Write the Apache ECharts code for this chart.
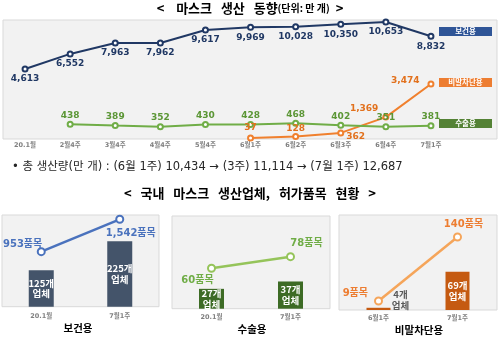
<!DOCTYPE html>
<html><head><meta charset="utf-8">
<script src="https://cdn.jsdelivr.net/npm/echarts@6/dist/echarts.min.js"></script>
<style>html,body{margin:0;padding:0;background:#fff}#c{width:500px;height:338px}</style>
</head><body><div id="c"></div>
<script>
// ---- data ----
const weeks = ['20.1월','2월4주','3월4주','4월4주','5월4주','6월1주','6월2주','6월3주','6월4주','7월1주'];
const healthMasks   = [4613,6552,7963,7962,9617,9969,10028,10350,10653,8832];
const dropletMasks  = [null,null,null,null,null,37,128,362,1369,3474];
const surgicalMasks = [null,438,389,352,430,428,468,402,351,381];
const seriesNames = ['보건용','비말차단용','수술용'];

const healthCats = ['20.1월','7월1주'];
const healthMakers = [125,225];
const healthItems = [953,1542];
const surgicalCats = ['20.1월','7월1주'];
const surgicalMakers = [27,37];
const surgicalItems = [60,78];
const dropletCats = ['6월1주','7월1주'];
const dropletMakers = [4,69];
const dropletItems = [9,140];

const totalNote = '• 총 생산량(만 개) : (6월 1주) 10,434 → (3주) 11,114 → (7월 1주) 12,687';

// ---- chart ----
const KR = "'Noto Sans CJK KR', sans-serif";
const NUM = "'DejaVu Sans', 'Noto Sans CJK KR', sans-serif";
const fmt = v => v.toLocaleString('en-US');
const chart = echarts.init(document.getElementById('c'), null, {renderer:'canvas', width:500, height:338});

const C = {blue:'#203864', orange:'#f0802e', orangeTxt:'#e2711d', green:'#70ad47', greenTxt:'#5b9635',
  p1bar:'#44546a', p1line:'#4a72bd', p2bar:'#3d6b25', p2line:'#95c45a', p2txt:'#70ad47',
  p3bar:'#c55a11', p3line:'#f5a55a', p3txt:'#ed7d31'};

const dropLabel = {5:{position:'top',distance:2},6:{position:'top',distance:0},7:{position:'right',distance:2,offset:[0,4]},
  8:{position:'left',distance:4,offset:[0,-8]},9:{position:'left',distance:8,offset:[0,-3]}};

const catAxis = (gi, data, margin) => ({type:'category', gridIndex:gi, data, boundaryGap:true,
  axisLine:{show:false}, axisTick:{show:false}, splitLine:{show:false},
  axisLabel:{margin, fontSize:6.5, fontWeight:'bold', color:'#808080', fontFamily:NUM}});
const valAxis = (gi, min, max) => ({type:'value', gridIndex:gi, min, max, show:false, splitLine:{show:false}});

const lineSeries = (name, xi, yi, data, color, lblColor, label, size, width) => ({
  type:'line', name, xAxisIndex:xi, yAxisIndex:yi, data, symbol:'emptyCircle', symbolSize:size||5,
  itemStyle:{color, borderWidth:1.3}, lineStyle:{color, width:width||2}, z:5,
  label:Object.assign({show:true, color:lblColor, fontFamily:NUM, fontWeight:'bold', fontSize:9}, label)});

const panelBar = (xi, yi, data, color, width, label) => ({type:'bar', xAxisIndex:xi, yAxisIndex:yi, barWidth:width,
  data, itemStyle:{color}, z:3,
  label:Object.assign({show:true, position:'inside', color:'#fff', fontFamily:KR, fontWeight:'bold', fontSize:9.5,
    lineHeight:10.5, formatter:p=>p.value+'개\n업체'}, label)});

const gridBox = {show:true, backgroundColor:'#f2f2f2', borderColor:'#d9d9d9', borderWidth:1};

const legendBox = (y, color, text) => ({type:'rect', shape:{x:439, y, width:53, height:9}, style:{fill:color}, z:10,
  textContent:{style:{text, fill:'#fff', fontSize:7.5, fontFamily:KR, fontWeight:'bold'}, z:11},
  textConfig:{position:'inside'}});

const option = {
  animation:false,
  title:[
    {text:'<    마스크   생산   동향{s|(단위: 만 개)}  >', left:'center', top:1, padding:0,
      textStyle:{fontSize:13, fontWeight:'bold', fontFamily:KR, color:'#000', lineHeight:14,
        rich:{s:{fontSize:10, fontWeight:'bold', fontFamily:KR, color:'#000', lineHeight:14}}}},
    {text:'<   국내   마스크   생산업체,   허가품목   현황   >', left:'center', top:186, padding:0,
      textStyle:{fontSize:13, fontWeight:'bold', fontFamily:KR, color:'#000', lineHeight:14}}
  ],
  grid:[
    {left:2.5, top:20, width:451, height:119},
    Object.assign({left:2, top:215, width:157, height:91.7}, gridBox),
    Object.assign({left:172, top:216, width:158, height:92.7}, gridBox),
    Object.assign({left:339, top:215, width:158, height:95}, gridBox)
  ],
  xAxis:[catAxis(0, weeks, 3.5), catAxis(1, healthCats, 6.5), catAxis(2, surgicalCats, 5), catAxis(3, dropletCats, 5.5)],
  yAxis:[valAxis(0,-4384,10911), valAxis(0,-27,7548), valAxis(0,-68,3994),
    valAxis(1,0,315), valAxis(1,-47,1620), valAxis(2,0,126), valAxis(2,-2.6,141), valAxis(3,0,171), valAxis(3,-9.4,185)],
  graphic:[
    {type:'rect', shape:{x:3, y:20, width:494, height:119}, style:{fill:'#f2f2f2', stroke:'#d9d9d9', lineWidth:1}, z:-1, silent:true},
    legendBox(27, '#2f5597', seriesNames[0]),
    legendBox(78, '#ed7d31', seriesNames[1]),
    legendBox(119, '#548235', seriesNames[2]),
    {type:'text', x:12, y:167.5, style:{text:totalNote, fontSize:11.5, fontFamily:NUM, fill:'#262626', textVerticalAlign:'middle'}},
    {type:'text', x:78, y:328, style:{text:'보건용', fontSize:10.5, fontWeight:'bold', fontFamily:KR, fill:'#000', textAlign:'center', textVerticalAlign:'middle'}},
    {type:'text', x:252, y:329, style:{text:'수술용', fontSize:10.5, fontWeight:'bold', fontFamily:KR, fill:'#000', textAlign:'center', textVerticalAlign:'middle'}},
    {type:'text', x:419, y:330, style:{text:'비말차단용', fontSize:10.5, fontWeight:'bold', fontFamily:KR, fill:'#000', textAlign:'center', textVerticalAlign:'middle'}}
  ],
  series:[
    lineSeries(seriesNames[0], 0, 0, healthMasks, C.blue, C.blue, {position:'bottom', distance:2, formatter:p=>fmt(p.value)}),
    lineSeries(seriesNames[1], 0, 1, dropletMasks.map((v,i)=> v==null ? '-' : {value:v, label:dropLabel[i]}), C.orange, C.orangeTxt,
      {formatter:p=>fmt(p.value)}),
    lineSeries(seriesNames[2], 0, 2, surgicalMasks.map(v=> v==null ? '-' : v), C.green, C.greenTxt, {position:'top', distance:1, formatter:p=>fmt(p.value)}),

    panelBar(1, 3, healthMakers, C.p1bar, 25),
    lineSeries('보건용 품목', 1, 4, healthItems.map((v,i)=>({value:v, label: i===0 ? {position:'left', distance:-5.5, offset:[0,-7]} : {position:'bottom', distance:5, offset:[11,0]}})),
      C.p1line, C.p1line, {fontSize:10, formatter:p=>fmt(p.value)+'품목'}, 7, 2.5),

    panelBar(2, 5, surgicalMakers, C.p2bar, 25),
    lineSeries('수술용 품목', 2, 6, surgicalItems.map((v,i)=>({value:v, label: i===0 ? {position:'bottom', distance:3, offset:[-14,0]} : {position:'top', distance:4, offset:[16,0]}})),
      C.p2line, C.p2txt, {fontSize:10, formatter:p=>fmt(p.value)+'품목'}, 7, 2.5),

    panelBar(3, 7, dropletMakers.map((v,i)=> i===0 ? {value:v, label:{position:'right', distance:10, align:'center', offset:[0,-9], color:'#595959'}} : v), C.p3bar, 24),
    lineSeries('비말차단용 품목', 3, 8, dropletItems.map((v,i)=>({value:v, label: i===0 ? {position:'left', distance:6, offset:[0,-8]} : {position:'top', distance:3, offset:[6,0]}})),
      C.p3line, C.p3txt, {fontSize:10, formatter:p=>fmt(p.value)+'품목'}, 7, 2.5)
  ]
};
chart.setOption(option);
</script>
</body></html>
